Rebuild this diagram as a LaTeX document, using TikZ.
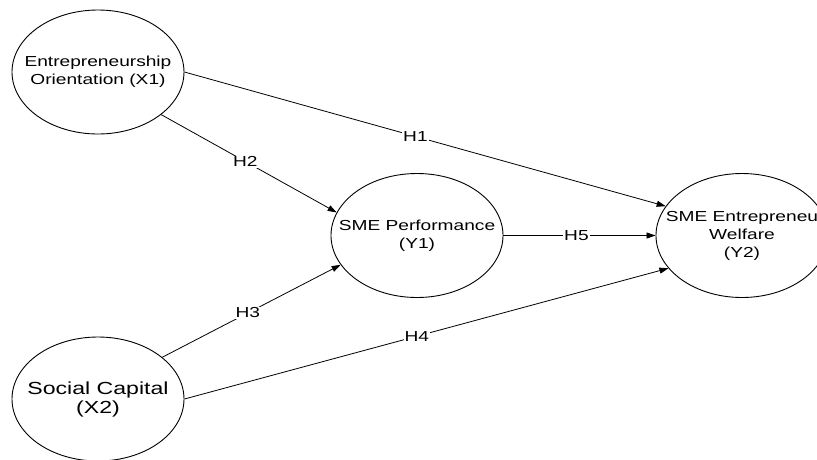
\documentclass[tikz,border=0pt]{standalone}
\usepackage{fontspec}
\setmainfont[FakeStretch=1.32]{Liberation Sans}
\usetikzlibrary{arrows.meta,shapes.geometric,positioning,calc}
\tikzset{
    construct/.style = {ellipse,
                    fill=white,
                    draw=black,
                    line width=0.9pt,
                    minimum width=172pt,
                    minimum height=124pt,
                    inner sep=0pt},
    caption/.style = {font=\fontsize{14.5}{18}\selectfont,
                    align=center,
                    text=black},
    bigcaption/.style = {font=\fontsize{17.5}{19}\selectfont,
                    align=center,
                    text=black},
    hyp/.style =    {fill=white,
                    inner sep=1pt,
                    text=black,
                    font=\fontsize{14.5}{18}\selectfont,
                    pos=0.48},
    >={Triangle[length=9pt,width=6pt]},
    draw=black}

\begin{document}
\begin{tikzpicture}
                \useasboundingbox (-98pt,72pt) rectangle (719pt,-387pt);
                \node[construct]    (X1) [label={[caption]center:Entrepreneurship\\Orientation (X1)}]      {};
                \node[construct]    (X2) [below of=X1,node distance=327pt,label={[bigcaption]center:Social Capital\\(X2)}]  {};
                \coordinate         (M) at ($(X1)!0.5!(X2)$);
                \node[construct]    (Y1) [right of=M,node distance=319pt,label={[caption]center:SME Performance\\(Y1)}]   {};
                \node[construct]    (Y2) [right of=Y1,node distance=325pt,label={[caption]center:SME Entrepreneu\\Welfare\\(Y2)}]  {};

                \path [line width=0.8pt,->]  (X1.east) edge    node [hyp] {H1} (Y2.159)
                                        (X1.-34)  edge      node [hyp] {H2} (Y1.164)
                                        (X2.33)   edge      node [hyp] {H3} (Y1.201)
                                        (X2.east) edge      node [hyp] {H4} (Y2.204)
                                        (Y1.east) edge      node [hyp] {H5} (Y2.west);
\end{tikzpicture}
\end{document}
